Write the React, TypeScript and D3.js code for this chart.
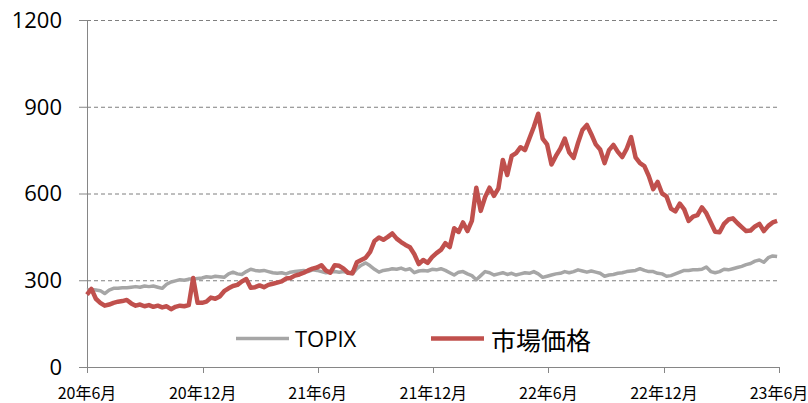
import { useEffect, useRef } from "react";
import * as d3 from "d3";

// weekly samples starting 2020-06-01
const startDate = new Date(2020, 5, 1);
const endDate = new Date(2023, 5, 1);

const marketPrice = [
  250, 270, 236, 222, 212, 216, 222, 226, 228, 232,
  220, 212, 216, 210, 214, 208, 212, 206, 210, 200,
  208, 212, 210, 214, 308, 222, 222, 226, 240, 236,
  244, 262, 272, 280, 284, 296, 304, 274, 276, 282,
  276, 284, 288, 292, 296, 306, 308, 316, 320, 326,
  334, 340, 344, 352, 334, 326, 352, 350, 340, 326,
  324, 362, 370, 378, 398, 436, 448, 440, 450, 462,
  444, 432, 422, 414, 390, 356, 370, 360, 380, 394,
  405, 428, 415, 480, 467, 500, 470, 505, 620, 540,
  588, 620, 592, 618, 716, 664, 730, 740, 760, 750,
  790, 830, 876, 790, 770, 700, 730, 755, 790, 742,
  723, 775, 820, 837, 805, 770, 752, 705, 750, 768,
  744, 726, 755, 795, 725, 705, 695, 660, 615, 640,
  600, 590, 548, 538, 565, 545, 505, 520, 525, 552,
  532, 500, 468, 466, 495, 510, 514, 498, 484, 470,
  472, 486, 495, 470, 488, 500, 505,
];

const topix = [
  266, 268, 266, 264, 254, 266, 272, 272, 274, 274,
  276, 278, 276, 280, 278, 280, 276, 272, 286, 294,
  298, 302, 300, 304, 304, 306, 308, 312, 310, 314,
  312, 310, 322, 328, 322, 320, 330, 338, 334, 332,
  334, 330, 326, 324, 326, 322, 328, 330, 332, 334,
  330, 336, 334, 330, 326, 328, 330, 328, 330, 326,
  322, 340, 352, 360, 350, 338, 328, 334, 336, 340,
  338, 342, 336, 340, 326, 332, 334, 332, 338, 336,
  340, 334, 326, 318, 328, 330, 322, 316, 302, 316,
  330, 326, 318, 322, 326, 320, 324, 318, 322, 326,
  324, 330, 322, 310, 314, 318, 322, 324, 330, 326,
  330, 336, 332, 328, 332, 328, 324, 314, 318, 320,
  324, 326, 330, 332, 334, 340, 334, 330, 330, 324,
  322, 314, 316, 322, 328, 334, 334, 336, 336, 338,
  346, 330, 326, 330, 338, 336, 340, 344, 348, 354,
  358, 366, 370, 362, 378, 384, 382,
];

const yTicks = [0, 300, 600, 900, 1200];
const xTickDates = [
  new Date(2020, 5, 1),
  new Date(2020, 11, 1),
  new Date(2021, 5, 1),
  new Date(2021, 11, 1),
  new Date(2022, 5, 1),
  new Date(2022, 11, 1),
  new Date(2023, 5, 1),
];
const xTickLabels = ["20年6月", "20年12月", "21年6月", "21年12月", "22年6月", "22年12月", "23年6月"];
const legendLabels = ["TOPIX", "市場価格"];

export default function App() {
  const ref = useRef<SVGSVGElement>(null);

  useEffect(() => {
    const width = 808;
    const height = 403;
    const left = 87;
    const right = 779;
    const top = 20;
    const bottom = 367;
    const red = "#C0504D";
    const gray = "#A6A6A6";
    const axisColor = "#868686";

    const svg = d3.select(ref.current);
    svg.selectAll("*").remove();
    svg.attr("width", width).attr("height", height).attr("viewBox", [0, 0, width, height]);

    const x = d3.scaleTime([startDate, endDate], [left, right]);
    const y = d3.scaleLinear([0, 1200], [bottom, top]);
    const dates = marketPrice.map((_, i) => d3.timeDay.offset(startDate, i * 7));

    // gridlines
    svg.append("g")
      .selectAll("line")
      .data(yTicks.filter(d => d > 0))
      .join("line")
      .attr("x1", left)
      .attr("x2", right)
      .attr("y1", d => y(d) + 0.5)
      .attr("y2", d => y(d) + 0.5)
      .attr("stroke", "#7f7f7f")
      .attr("stroke-dasharray", "4,3");

    // y axis
    svg.append("line")
      .attr("x1", left + 0.5).attr("x2", left + 0.5)
      .attr("y1", top).attr("y2", bottom + 0.5)
      .attr("stroke", axisColor);
    svg.append("g")
      .selectAll("line")
      .data(yTicks)
      .join("line")
      .attr("x1", left - 8)
      .attr("x2", left)
      .attr("y1", d => y(d) + 0.5)
      .attr("y2", d => y(d) + 0.5)
      .attr("stroke", axisColor);
    svg.append("g")
      .selectAll("text")
      .data(yTicks)
      .join("text")
      .attr("x", 62)
      .attr("y", d => y(d))
      .attr("dy", "0.36em")
      .attr("text-anchor", "end")
      .attr("font-family", "'Open Sans', 'Liberation Sans', sans-serif")
      .attr("font-size", 22)
      .attr("fill", "#000")
      .text(d => d);

    // x axis
    svg.append("line")
      .attr("x1", left).attr("x2", right + 0.5)
      .attr("y1", bottom + 0.5).attr("y2", bottom + 0.5)
      .attr("stroke", axisColor);
    svg.append("g")
      .selectAll("line")
      .data(xTickDates)
      .join("line")
      .attr("x1", d => Math.round(x(d)) + 0.5)
      .attr("x2", d => Math.round(x(d)) + 0.5)
      .attr("y1", bottom)
      .attr("y2", bottom + 6)
      .attr("stroke", axisColor);
    svg.append("g")
      .selectAll("text")
      .data(xTickDates)
      .join("text")
      .attr("x", d => x(d))
      .attr("y", 399)
      .attr("text-anchor", "middle")
      .attr("font-family", "'Noto Sans CJK JP', sans-serif")
      .attr("font-size", 16)
      .attr("fill", "#000")
      .text((_, i) => xTickLabels[i]);

    const line = d3.line<number>()
      .x((_, i) => x(dates[i]))
      .y(d => y(d));

    svg.append("path")
      .attr("fill", "none")
      .attr("stroke", gray)
      .attr("stroke-width", 3.5)
      .attr("stroke-linejoin", "round")
      .attr("d", line(topix));

    svg.append("path")
      .attr("fill", "none")
      .attr("stroke", red)
      .attr("stroke-width", 4.5)
      .attr("stroke-linejoin", "round")
      .attr("d", line(marketPrice));

    // legend
    const legend = svg.append("g");
    legend.append("line")
      .attr("x1", 236).attr("x2", 289)
      .attr("y1", 338.5).attr("y2", 338.5)
      .attr("stroke", gray).attr("stroke-width", 3.5);
    legend.append("text")
      .attr("x", 295).attr("y", 347)
      .attr("font-family", "'Open Sans', 'Liberation Sans', sans-serif")
      .attr("font-size", 22)
      .attr("fill", "#000")
      .text(legendLabels[0]);
    legend.append("line")
      .attr("x1", 431).attr("x2", 484)
      .attr("y1", 338.5).attr("y2", 338.5)
      .attr("stroke", red).attr("stroke-width", 4.5);
    legend.append("text")
      .attr("x", 491).attr("y", 350)
      .attr("font-family", "'Noto Sans CJK JP', sans-serif")
      .attr("font-size", 25)
      .attr("fill", "#000")
      .text(legendLabels[1]);
  }, []);

  return (
    <svg ref={ref} style={{ position: "absolute", left: 0, top: 0, background: "#fff" }}></svg>
  );
}
